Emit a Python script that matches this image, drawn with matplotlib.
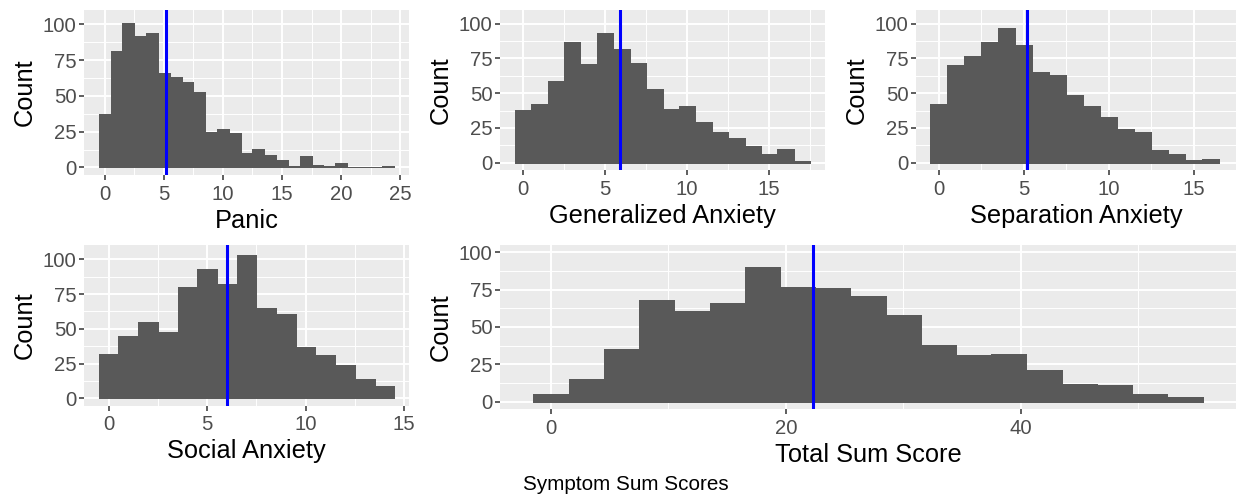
import matplotlib
matplotlib.use('Agg')
import matplotlib.pyplot as plt
import numpy as np

plt.rcParams['font.family'] = ['Liberation Sans', 'DejaVu Sans']

# counts per bin (bin width 1, centred on integers)
panic_counts = [37, 81, 101, 92, 94, 66, 63, 60, 53, 25, 27, 24, 10, 13, 9, 5,
                1, 8, 2, 1, 3, 0, 0, 0, 1]
gad_counts = [38, 42, 59, 87, 71, 93, 82, 72, 53, 39, 41, 29, 22, 18, 12, 6, 10, 1]
sep_counts = [42, 70, 77, 87, 97, 85, 65, 63, 49, 41, 33, 24, 22, 9, 6, 2, 3]
soc_counts = [32, 45, 55, 48, 80, 93, 82, 103, 65, 61, 37, 31, 24, 14, 9]
# total sum score uses bins of width 3 centred on 0, 3, ..., 54
total_counts = [5, 15, 35, 68, 61, 66, 90, 77, 76, 71, 58, 38, 31, 32, 21, 12, 11, 5, 3]

panic_mean = 5.15
gad_mean = 5.94
sep_mean = 5.18
soc_mean = 6.0
total_mean = 22.3

panels = [
    # name, counts, binwidth, mean, xticks, xminor, ymax, axes box (px: left, right, top, bottom)
    ('Panic', panic_counts, 1, panic_mean, [0, 5, 10, 15, 20, 25], np.arange(2.5, 25, 5), 105, (84, 409, 9.5, 175)),
    ('Generalized Anxiety', gad_counts, 1, gad_mean, [0, 5, 10, 15], np.arange(2.5, 20, 5), 105, (500, 825, 9.5, 170)),
    ('Separation Anxiety', sep_counts, 1, sep_mean, [0, 5, 10, 15], np.arange(2.5, 20, 5), 105, (916, 1236, 9.5, 170)),
    ('Social Anxiety', soc_counts, 1, soc_mean, [0, 5, 10, 15], np.arange(2.5, 15, 5), 105, (84, 409, 245, 405.7)),
    ('Total Sum Score', total_counts, 3, total_mean, [0, 20, 40], [10, 30, 50], 100, (500, 1236, 245, 409)),
]

W, H = 1236, 499
fig = plt.figure(figsize=(W / 100, H / 100), dpi=100, facecolor='w')

for name, counts, bw, mean, xticks, xminor, ymax, box in panels:
    l, r, t, b = box
    ax = fig.add_axes([l / W, 1 - b / H, (r - l) / W, (b - t) / H])
    ax.set_facecolor('#EBEBEB')
    ax.set_axisbelow(True)
    for s in ax.spines.values():
        s.set_visible(False)

    centers = np.arange(len(counts)) * bw
    ax.bar(centers, counts, width=bw, color='#595959', edgecolor='#595959',
           linewidth=0.4, antialiased=False, zorder=2)
    ax.axvline(mean, color='#0000FF', lw=2.2, zorder=3)

    lo = centers[0] - bw / 2
    hi = centers[-1] + bw / 2
    pad = 0.05 * (hi - lo)
    ax.set_xlim(lo - pad, hi + pad)
    ax.set_ylim(-0.05 * ymax, 1.05 * ymax)

    ax.set_xticks(xticks)
    ax.set_xticks(xminor, minor=True)
    ax.set_yticks([0, 25, 50, 75, 100])
    ax.set_yticks([12.5, 37.5, 62.5, 87.5], minor=True)
    ax.grid(True, which='major', color='white', lw=1.4)
    ax.grid(True, which='minor', color='white', lw=0.7)
    ax.tick_params(which='major', length=3.5, width=1.1, color='#333333',
                   labelcolor='#4D4D4D', labelsize=14.6)
    ax.tick_params(axis='x', which='major', pad=3.5)
    ax.tick_params(axis='y', which='major', pad=2)
    ax.tick_params(which='minor', length=0)

    ax.set_xlabel(name, fontsize=18.3, labelpad=3.5)
    ax.set_ylabel('Count', fontsize=18.3, labelpad=4)

fig.text(626 / W, 1 - 485 / H, 'Symptom Sum Scores', fontsize=14.9, ha='center', va='center')

fig.savefig('out.png', dpi=100)
